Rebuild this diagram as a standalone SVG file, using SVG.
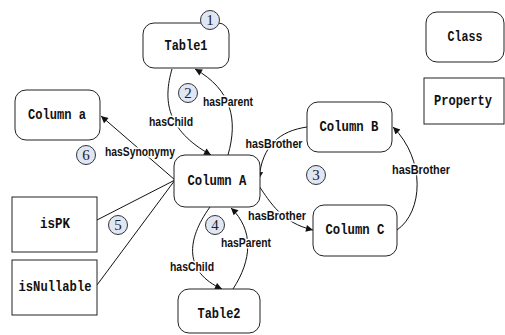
<svg xmlns="http://www.w3.org/2000/svg" width="505" height="335" viewBox="0 0 505 335">
  <style>
    .box { fill: #ffffff; stroke: #222222; stroke-width: 1; }
    .lbl { font-family: "Liberation Mono", "DejaVu Sans Mono", monospace; font-size: 15px; font-weight: bold; fill: #111111; text-anchor: middle; dominant-baseline: central; }
    .edge { fill: none; stroke: #111111; stroke-width: 1; }
    .arr { marker-end: url(#head); }
    .elbl { font-family: "Liberation Sans", Arial, sans-serif; font-size: 12px; font-weight: bold; fill: #111111; text-anchor: middle; dominant-baseline: central; stroke: #ffffff; stroke-width: 3; paint-order: stroke; stroke-linejoin: round; }
    .num circle { fill: #dfe6f4; stroke: #333333; stroke-width: 1; }
    .num text { font-family: "Liberation Serif", "Times New Roman", serif; font-size: 15px; fill: #222222; text-anchor: middle; dominant-baseline: central; }
  </style>
  <defs>
    <marker id="head" viewBox="0 0 10 10" refX="10" refY="5" markerWidth="9" markerHeight="7" markerUnits="userSpaceOnUse" orient="auto">
      <path d="M0,0 L10,5 L0,10 Z" fill="#111111"/>
    </marker>
  </defs>

  <!-- connectors -->
  <g id="connectors">
    <path class="edge arr" d="M172,69 C163,100 166,130 211,155"/>
    <path class="edge arr" d="M228,155 C238,120 232,90 195,69"/>
    <path class="edge arr" d="M307,127 C280,131 262,145 259,179"/>
    <path class="edge arr" d="M259,186 C270,202 282,223 313,230"/>
    <path class="edge arr" d="M397,230 C423,212 426,160 393,127"/>
    <path class="edge arr" d="M210,207 C186,240 184,272 222,289"/>
    <path class="edge arr" d="M233,289 C252,260 254,230 231,208"/>
    <path class="edge arr" d="M175,180 L101,116"/>
    <path class="edge" d="M97,220 L175,180"/>
    <path class="edge" d="M97,285 L175,180"/>

    <text class="elbl" x="171" y="122" textLength="44" lengthAdjust="spacingAndGlyphs">hasChild</text>
    <text class="elbl" x="228" y="102" textLength="50" lengthAdjust="spacingAndGlyphs">hasParent</text>
    <text class="elbl" x="140" y="152" textLength="70" lengthAdjust="spacingAndGlyphs">hasSynonymy</text>
    <text class="elbl" x="274" y="144" textLength="57" lengthAdjust="spacingAndGlyphs">hasBrother</text>
    <text class="elbl" x="277" y="216" textLength="58" lengthAdjust="spacingAndGlyphs">hasBrother</text>
    <text class="elbl" x="421" y="170" textLength="58" lengthAdjust="spacingAndGlyphs">hasBrother</text>
    <text class="elbl" x="192" y="267" textLength="44" lengthAdjust="spacingAndGlyphs">hasChild</text>
    <text class="elbl" x="246" y="243" textLength="50" lengthAdjust="spacingAndGlyphs">hasParent</text>
  </g>

  <!-- nodes -->
  <g id="table1">
    <rect class="box" x="143" y="23" width="86" height="45" rx="11"/>
    <text class="lbl" x="186" y="46" textLength="43" lengthAdjust="spacingAndGlyphs">Table1</text>
  </g>
  <g id="column-a-small">
    <rect class="box" x="15" y="90" width="85" height="50" rx="11"/>
    <text class="lbl" x="57" y="115" textLength="58" lengthAdjust="spacingAndGlyphs">Column a</text>
  </g>
  <g id="column-a">
    <rect class="box" x="174" y="155" width="86" height="52" rx="11"/>
    <text class="lbl" x="217" y="181" textLength="59" lengthAdjust="spacingAndGlyphs">Column A</text>
  </g>
  <g id="column-b">
    <rect class="box" x="307" y="102" width="85" height="50" rx="11"/>
    <text class="lbl" x="349" y="127" textLength="59" lengthAdjust="spacingAndGlyphs">Column B</text>
  </g>
  <g id="column-c">
    <rect class="box" x="313" y="205" width="84" height="51" rx="11"/>
    <text class="lbl" x="355" y="230" textLength="59" lengthAdjust="spacingAndGlyphs">Column C</text>
  </g>
  <g id="table2">
    <rect class="box" x="178" y="289" width="82" height="44" rx="11"/>
    <text class="lbl" x="219" y="314" textLength="43" lengthAdjust="spacingAndGlyphs">Table2</text>
  </g>
  <g id="ispk">
    <rect class="box" x="12" y="197" width="85" height="55"/>
    <text class="lbl" x="55" y="224" textLength="30" lengthAdjust="spacingAndGlyphs">isPK</text>
  </g>
  <g id="isnullable">
    <rect class="box" x="12" y="260" width="85" height="55"/>
    <text class="lbl" x="55" y="287" textLength="73" lengthAdjust="spacingAndGlyphs">isNullable</text>
  </g>
  <g id="class-legend">
    <rect class="box" x="426" y="12" width="78" height="50" rx="11"/>
    <text class="lbl" x="465" y="37" textLength="35" lengthAdjust="spacingAndGlyphs">Class</text>
  </g>
  <g id="property-legend">
    <rect class="box" x="424" y="78" width="80" height="46"/>
    <text class="lbl" x="463" y="101" font-size="13" textLength="58" lengthAdjust="spacingAndGlyphs">Property</text>
  </g>

  <!-- numbered markers -->
  <g class="num" id="n1"><circle cx="210" cy="20" r="9.5"/><text x="210" y="20">1</text></g>
  <g class="num" id="n2"><circle cx="188" cy="93" r="9.5"/><text x="188" y="93">2</text></g>
  <g class="num" id="n3"><circle cx="316" cy="175" r="9.5"/><text x="316" y="175">3</text></g>
  <g class="num" id="n4"><circle cx="215" cy="225" r="9.5"/><text x="215" y="225">4</text></g>
  <g class="num" id="n5"><circle cx="118" cy="225" r="9.5"/><text x="118" y="225">5</text></g>
  <g class="num" id="n6"><circle cx="86" cy="155" r="9.5"/><text x="86" y="155">6</text></g>
</svg>
